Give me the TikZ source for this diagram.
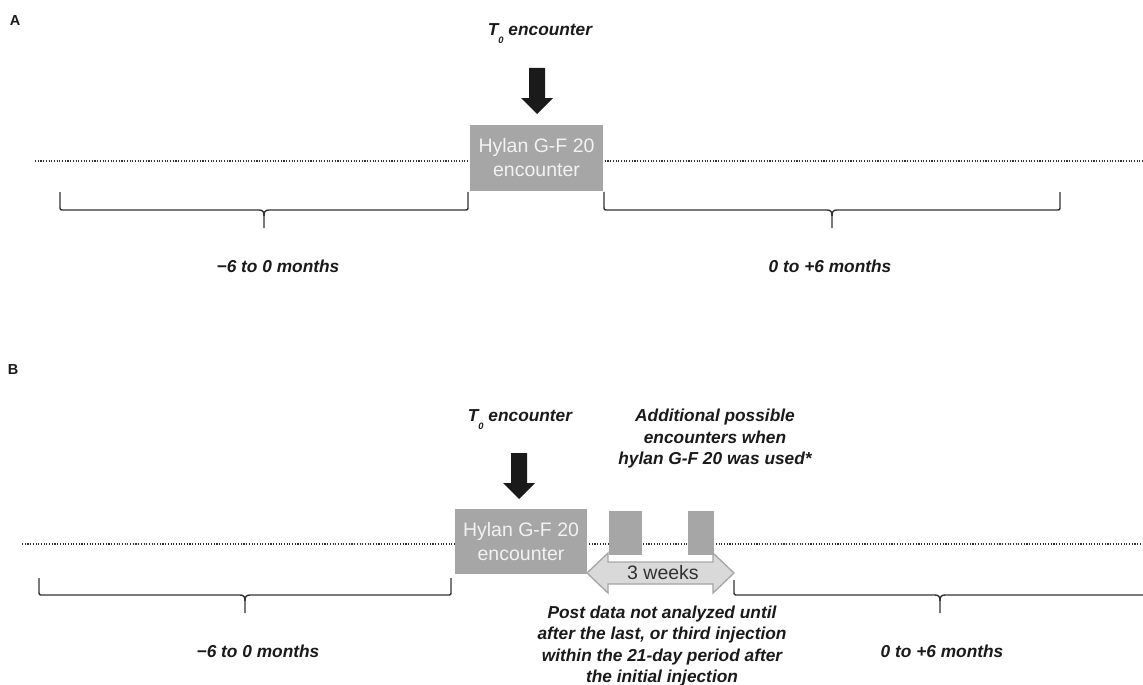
\documentclass[tikz,border=0pt]{standalone}
\usepackage{fontspec}
\setmainfont{Liberation Sans}
\definecolor{boxgray}{HTML}{A6A6A6}
\definecolor{arrowfill}{HTML}{D9D9D9}
\definecolor{ink}{HTML}{1A1A1A}
\definecolor{bracecol}{HTML}{333333}
\tikzset{
  lbl/.style={font=\fontsize{17.3}{21.5}\selectfont\bfseries\itshape, text=ink, align=center, inner sep=0pt},
  panel/.style={font=\fontsize{14.5}{16}\selectfont\bfseries, text=ink, inner sep=0pt},
  encbox/.style={fill=boxgray, draw=none, text=white!95!black, font=\fontsize{19.5}{24}\selectfont, align=center, minimum width=133pt, minimum height=66pt, inner sep=0pt},
  smallbox/.style={fill=boxgray, draw=none, inner sep=0pt, minimum height=44pt},
  timeline/.style={draw=ink!90, line width=1.2pt, dash pattern=on 1.1pt off 1.6pt},
  bracestyle/.style={draw=bracecol, line width=1.4pt},
  blockarrow/.style={fill=ink},
  spanarrow/.style={fill=arrowfill, draw=boxgray, line width=1.3pt, line join=miter},
  weekslbl/.style={font=\fontsize{19.5}{24}\selectfont, text=ink!90, inner sep=0pt}
}
\newcommand{\tzero}{T\raisebox{-8pt}{\fontsize{9.3}{9.3}\selectfont 0} encounter}
\newcommand{\timebrace}[5]{%
  \pgfmathsetmacro{\bracemid}{(#1+#2)/2}%
  \draw[bracestyle] (#1,#3) -- (#1,#4-4) .. controls (#1,#4) .. (#1+4,#4) -- (\bracemid-5,#4) .. controls (\bracemid-1,#4) and (\bracemid,#4+2) .. (\bracemid,#4+6) -- (\bracemid,#5);
  \draw[bracestyle] (#2,#3) -- (#2,#4-4) .. controls (#2,#4) .. (#2-4,#4) -- (\bracemid+5,#4) .. controls (\bracemid+1,#4) and (\bracemid,#4+2) .. (\bracemid,#4+6);
}
\begin{document}
\begin{tikzpicture}[x=1pt,y=-1pt]
\useasboundingbox[fill=white] (0,0) rectangle (1143,685);
\clip (0,0) rectangle (1143,685);

% ---------------- Panel A ----------------
\node[panel] (labA) at (15,21) {A};
\draw[timeline] (35,161) -- (1143,161);
\node[lbl] (t0A) at (540,34) {\tzero};
\fill[blockarrow] (529,68) -- (545,68) -- (545,98) -- (553,98) -- (537,114) -- (521,98) -- (529,98) -- cycle;
\node[encbox] (boxA) at (536.5,158) {Hylan G-F 20\\encounter};
\timebrace{60}{468}{192}{210}{228}
\timebrace{604}{1060}{192}{210}{228}
\node[lbl] (preA) at (278,266) {−6 to 0 months};
\node[lbl] (postA) at (830,266) {0 to +6 months};

% ---------------- Panel B ----------------
\node[panel] (labB) at (13,370) {B};
\draw[timeline] (22,544) -- (1143,544);
\node[lbl] (t0B) at (520,420) {\tzero};
\fill[blockarrow] (511,453) -- (527,453) -- (527,483) -- (535,483) -- (519,499) -- (503,483) -- (511,483) -- cycle;
\filldraw[spanarrow] (587,573) -- (608,553) -- (608,562) -- (713,562) -- (713,553) -- (734,573) -- (713,593) -- (713,584) -- (608,584) -- (608,593) -- cycle;
\node[encbox, minimum height=65pt, minimum width=132pt] (boxB) at (521,541.5) {Hylan G-F 20\\encounter};
\node[smallbox, minimum width=33pt] (inj2) at (625.5,533) {};
\node[smallbox, minimum width=26pt] (inj3) at (700.5,533) {};
\node[weekslbl] (weeks) at (663,573) {3 weeks};
\node[lbl] (addl) at (715,439) {Additional possible\\encounters when\\hylan G-F 20 was used*};
\node[lbl] (post) at (662,646) {Post data not analyzed until\\after the last, or third injection\\within the 21-day period after\\the initial injection};
\timebrace{39}{451}{578}{595}{613}
\timebrace{734}{1146}{580}{595}{613}
\node[lbl] (preB) at (258,651) {−6 to 0 months};
\node[lbl] (postB) at (942,651) {0 to +6 months};
\end{tikzpicture}
\end{document}
